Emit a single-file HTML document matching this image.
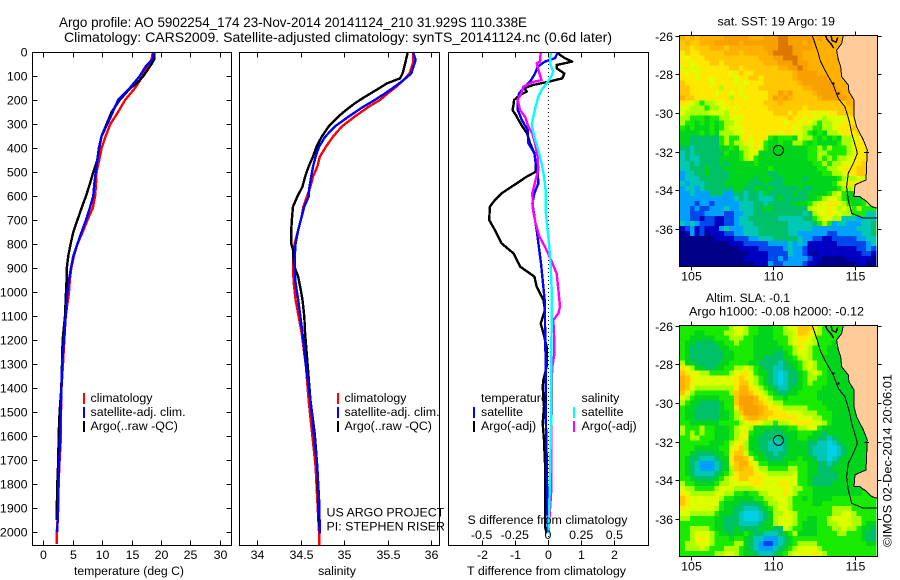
<!DOCTYPE html>
<html lang="en">
<head>
<meta charset="utf-8">
<title>Argo profile 5902254_174</title>
<style>
html,body{margin:0;padding:0;background:#fff;}
svg{display:block;}
text{font-family:"Liberation Sans",Arial,sans-serif;font-size:12.4px;fill:#000;}
.ttl{font-size:14px;}
</style>
</head>
<body>
<svg id="chart" xmlns="http://www.w3.org/2000/svg" width="900" height="580" viewBox="0 0 900 580">
  <text class="ttl" x="59" y="27" textLength="468" lengthAdjust="spacingAndGlyphs">Argo profile: AO 5902254_174 23-Nov-2014 20141124_210 31.929S 110.338E</text>
  <text class="ttl" x="64" y="42" textLength="548" lengthAdjust="spacingAndGlyphs">Climatology: CARS2009. Satellite-adjusted climatology: synTS_20141124.nc (0.6d later)</text>

  <g id="p1"></g>
  <g id="p2"></g>
  <g id="p3"></g>
  <g id="m1"></g>
  <g id="m2"></g>

  <g shape-rendering="crispEdges">
    <rect x="83" y="393" width="2" height="11" fill="#ff0000"/>
    <rect x="83" y="407" width="2" height="11" fill="#0000ff"/>
    <rect x="83" y="421" width="2" height="11" fill="#000000"/>
  </g>
  <text x="90.5" y="402">climatology</text>
  <text x="90.5" y="416">satellite-adj. clim.</text>
  <text x="90.5" y="430">Argo(..raw -QC)</text>

  <g shape-rendering="crispEdges">
    <rect x="337" y="393" width="2" height="11" fill="#ff0000"/>
    <rect x="337" y="407" width="2" height="11" fill="#0000ff"/>
    <rect x="337" y="421" width="2" height="11" fill="#000000"/>
  </g>
  <text x="344.5" y="402">climatology</text>
  <text x="344.5" y="416">satellite-adj. clim.</text>
  <text x="344.5" y="430">Argo(..raw -QC)</text>
  <text x="326.5" y="516.5">US ARGO PROJECT</text>
  <text x="326.5" y="530.5">PI: STEPHEN RISER</text>

  <g shape-rendering="crispEdges">
    <rect x="473" y="407" width="2" height="11" fill="#0000ff"/>
    <rect x="473" y="421" width="2" height="11" fill="#000000"/>
    <rect x="573" y="407" width="2" height="11" fill="#00ffff"/>
    <rect x="573" y="421" width="2" height="11" fill="#ff00ff"/>
  </g>
  <text x="481" y="402">temperature</text>
  <text x="481" y="416">satellite</text>
  <text x="481" y="430">Argo(-adj)</text>
  <text x="581.5" y="402">salinity</text>
  <text x="581.5" y="416">satellite</text>
  <text x="581.5" y="430">Argo(-adj)</text>

  <text x="74" y="575" textLength="110" lengthAdjust="spacingAndGlyphs">temperature (deg C)</text>
  <text x="337" y="575" text-anchor="middle">salinity</text>
  <text x="467.5" y="524" textLength="160" lengthAdjust="spacingAndGlyphs">S difference from climatology</text>
  <text x="467" y="575" textLength="159" lengthAdjust="spacingAndGlyphs">T difference from climatology</text>

  <text x="717.5" y="25.5" textLength="117.5" lengthAdjust="spacingAndGlyphs">sat. SST: 19 Argo: 19</text>
  <text x="706" y="302" textLength="84" lengthAdjust="spacingAndGlyphs">Altim. SLA: -0.1</text>
  <text x="689" y="315.5" textLength="175" lengthAdjust="spacingAndGlyphs">Argo h1000: -0.08 h2000: -0.12</text>
  <text transform="translate(891.5,547) rotate(-90)" textLength="173" lengthAdjust="spacingAndGlyphs">©IMOS 02-Dec-2014 20:06:01</text>
</svg>

<script>
/* ---- axis tick values ---- */
const depthTicks = [0,100,200,300,400,500,600,700,800,900,1000,1100,1200,1300,1400,1500,1600,1700,1800,1900,2000];
const tempTicks = [0,5,10,15,20,25,30];
const salTicks = [34,34.5,35,35.5,36];
const salTickLabels = ['34','34.5','35','35.5','36'];
const tDiffTicks = [-2,-1,0,1,2];
const tDiffLabels = ['-2','-1','0','1','2'];
const sDiffTicks = [-0.5,-0.25,0,0.25,0.5];
const sDiffLabels = ['-0.5','-0.25','0','0.25','0.5'];
const lonTicks = [105,110,115];
const latTicks = [-26,-28,-30,-32,-34,-36];

/* ---- temperature profiles ---- */
const tempClimDepth = [0,30,100,150,200,250,300,350,400,450,500,550,600,650,700,750,800,850,900,950,1000,1100,1200,1300,1400,1500,1600,1700,1800,1900,2000,2050];
const tempClimValues = [18.6,18.4,16.9,15.6,13.9,12.7,11.4,10.6,9.9,9.5,9.06,8.95,8.8,8.4,7.5,6.7,5.8,5.2,4.76,4.5,4.36,3.8,3.57,3.34,3.1,3.0,3.0,2.77,2.6,2.55,2.3,2.3];
const tempSatDepth = [0,30,60,100,150,200,250,300,350,400,450,500,550,600,650,700,750,800,850,900,950,1000,1100,1200,1300,1400,1500,1600,1700,1800,1900,2000];
const tempSatValues = [18.8,18.6,17.4,16.4,14.7,12.7,11.8,10.9,9.9,9.5,9.2,8.9,8.66,8.5,7.9,7.25,6.5,5.8,5.1,4.7,4.36,4.08,3.8,3.5,3.2,3.1,2.95,2.83,2.72,2.55,2.5,2.38];
const tempArgoDepth = [0,30,50,100,130,150,200,250,300,350,400,450,500,550,600,650,700,750,800,850,900,950,1000,1100,1200,1300,1400,1500,1600,1700,1800,1900,1950];
const tempArgoValues = [18.85,18.85,18.4,17,15.9,14.8,13,11.6,10.76,9.9,9.45,9.17,8.5,7.9,7.25,6.5,5.8,5.1,4.64,4.25,4,3.96,3.85,3.68,3.28,3.17,3.06,2.77,2.6,2.55,2.38,2.3,2.3];

/* ---- salinity profiles ---- */
const salClimDepth = [0,47,89,117,144,172,200,228,269,311,353,394,436,478,519,561,603,644,686,742,797,853,908,964,1033,1172,1311,1450,1589,1728,1867,2006,2055];
const salClimValues = [35.79,35.79,35.75,35.68,35.6,35.5,35.41,35.28,35.12,34.97,34.87,34.79,34.72,34.69,34.64,34.61,34.57,34.53,34.51,34.47,34.43,34.41,34.41,34.42,34.44,34.51,34.56,34.59,34.63,34.67,34.69,34.71,34.71];
const salSatDepth = [0,33,89,117,144,172,200,228,269,311,353,394,436,478,519,561,603,644,686,742,797,853,908,964,1033,1172,1311,1450,1589,1728,1867,2006];
const salSatValues = [35.79,35.82,35.77,35.68,35.58,35.47,35.35,35.22,35.05,34.89,34.78,34.71,34.67,34.64,34.62,34.6,34.59,34.54,34.51,34.47,34.44,34.43,34.43,34.44,34.47,34.52,34.56,34.61,34.65,34.69,34.71,34.72];
const salArgoDepth = [0,47,89,110,131,158,186,214,242,269,311,353,394,436,478,519,561,603,644,686,742,797,825,881,908,936,992,1033,1103,1172,1311,1450,1589,1728,1867,1978];
const salArgoValues = [35.73,35.7,35.67,35.64,35.49,35.37,35.24,35.12,35.02,34.93,34.82,34.74,34.68,34.64,34.59,34.55,34.52,34.46,34.41,34.4,34.39,34.39,34.41,34.42,34.44,34.47,34.5,34.52,34.54,34.55,34.58,34.61,34.66,34.69,34.7,34.71];

/* ---- differences from climatology ---- */
const dTArgoDepth = [3,12,26,40,54,68,89,110,124,137,151,165,179,200,221,242,262,283,311,339,380,422,464,499,519,547,589,617,644,700,742,797,839,894,936,978,1033,1075,1131,1172,1228,1310,1367,1394,1478,1547,1617,1714,1797,1867,1936,1978,2006];
const dTArgoValues = [0.31,0.36,0.51,0.73,0.26,0.26,0.49,0.43,0,-0.44,-0.71,-0.64,-0.84,-1.02,-1.04,-1.07,-0.97,-0.89,-0.77,-0.63,-0.54,-0.41,-0.37,-0.37,-0.64,-0.94,-1.4,-1.6,-1.75,-1.77,-1.6,-1.4,-1.04,-0.84,-0.41,-0.34,-0.14,-0.09,-0.22,-0.14,-0.04,-0.04,-0.14,-0.16,-0.12,-0.16,-0.12,-0.09,-0.09,-0.09,-0.09,-0.09,-0.04];
const dTSatDepth = [3,26,40,61,89,117,144,172,200,242,283,325,380,422,464,506,547,589,631,686,742,797,881,964,1047,1131,1310,1500,1700,2006];
const dTSatValues = [0.29,0.21,-0.09,-0.31,-0.39,-0.51,-0.69,-0.87,-0.91,-0.91,-0.79,-0.61,-0.59,-0.41,-0.37,-0.31,-0.29,-0.41,-0.47,-0.41,-0.34,-0.29,-0.21,-0.15,-0.09,-0.09,-0.07,-0.07,-0.04,-0.01];
const dSArgoDepth = [3,40,47,89,117,124,144,172,200,242,269,311,339,380,436,492,533,589,658,714,769,811,867,922,992,1061,1089,1117,1172,1256,1311,1367,1450,1711,1836,1964,2006];
const dSArgoValues = [-0.055,-0.06,-0.085,-0.065,-0.048,-0.11,-0.186,-0.2,-0.229,-0.21,-0.173,-0.148,-0.118,-0.098,-0.078,-0.073,-0.093,-0.118,-0.113,-0.093,-0.065,-0.023,0.023,0.065,0.078,0.09,0.078,0.04,0.045,0.048,0.033,0.028,0.028,0.023,0.023,0.008,0.003];
const dSSatDepth = [3,47,82,103,131,158,186,228,269,304,353,408,464,519,575,658,742,811,894,992,1061,1131,1269,1547,1825,2006];
const dSSatValues = [0.02,0.015,0.04,0.023,-0.01,-0.048,-0.073,-0.093,-0.11,-0.123,-0.103,-0.073,-0.048,-0.03,-0.018,-0.018,-0.003,0.01,0.02,0.028,0.028,0.028,0.023,0.023,0.013,0.003];

/* ---- map data: one character per cell, north to south, colour class index ---- */
const sstRows = [
"cbcbcccccd ddddcccddd eedddddcdc ccccdddddd",
"bcbbcccddd ddcddddddd eedddcdccc cccddddddd",
"bbabbbcccb cccccccddd eeeddddccc cccccddddd",
"abaabbbbbc ccbcccccde eeeddccccc ccccdddddd",
"a9aaabbbbb bbbbbbcccd deeedccccc ccccdddddd",
"aa9aaabbab bbbbbbbccc dddeddcccc cccccddddd",
"9a99aaaaaa bbabbbbbbb ccddedcccc cccccddddd",
"a9a9aaaaaa 9abaabbbbb bbbcddddcc ccccccdddd",
"aaa9aa9aaa a9aabbabbb bbbcdddddd ccccccdddd",
"baaaaa9aaa a9a9aaabbb bbbbcddddd dcccccdddd",
"bbaaaaaa8a aa9aaabbbb bbbbbccddd ddcccccddd",
"bbaaaaa9aa 9a9aaaaabb dcdbbbbcdd dddccccddd",
"cbbaaaaaaa 8aa9aaaabd cdcbbbbbcd ddddccccdd",
"aa9878899a aaaaaaabbb cbbbbbbbbb bbbbccccdd",
"9988878899 a9aaaaaabb bbbbbabbbb bbbbbccccc",
"9888889998 aaaaaaaaab bbabaaa9a9 aabbbbcccc",
"8877767788 999aaaaaaa aabaa9a998 9999aabbcc",
"8776767678 89aaaaaaaa a9aa9a9878 899aaabbbc",
"7676667678 999aaaaaaa aaa9a88778 89aaabbbcc",
"6666767688 899aaaaaaa 9aa9987676 889aaabbbc",
"6655555578 779a9aaa76 7776988767 676889aaab",
"6655555578 788a9a9766 7668876766 667889aaab",
"5545555566 76889a9766 6666667787 877789aabb",
"4545555557 6678996666 6666667788 777789aabb",
"4544555566 6678976666 6666667787 878899aabb",
"4454555565 6666676666 6666666778 78899aabbb",
"4455565556 6666666676 6666666677 889aaabbbb",
"3445565555 6666666655 6666666667 7889aabbcb",
"3444555555 6666656665 5666656666 66788899a8",
"4344455556 6666555655 5666666666 6789aa9888",
"3443455555 5665566565 5555655666 6678897788",
"3343335553 3554554655 5556556666 7897667888",
"3333333333 3454554445 6555556678 9987666778",
"3332332333 3344455455 5556667899 aa98766788",
"3323223334 3344455665 5555558999 a989878777",
"3322233332 2334455555 5555545899 a998877744",
"3322122112 2344555555 4444455789 9884443444",
"4343222112 2344455555 5544444578 7344333445",
"1231211134 3334445555 5544444333 3333334445",
"0131201112 2334445555 5544333333 2233333445",
"0000000111 1222334445 5555433221 1222223344",
"0000000000 1112222233 3343431111 1122222234",
"0000000000 0011112222 2343321111 1111112232",
"0000000000 0000111122 2243321011 1111111221",
"0000000000 0001111122 3233332110 0000111110",
"0000000000 0000011132 2333321100 0000001100"
];
const slaRows = [
"7777777777 8998776667 7899bbb987 7777777777",
"7776677778 8998776667 7889bba987 7776666777",
"7766666777 8887766667 7789aa9877 7766666677",
"7665555667 7877766666 7789a99877 7666666667",
"7655555566 7777766666 6778a98777 6666666667",
"7655555556 6777766665 5678998777 6666666667",
"7655555556 6777766555 5667898776 6666666667",
"8665555566 7777665555 4566789877 6666666667",
"a986655667 7889876554 4556789877 6666666667",
"ba99887777 89aa976654 f455678987 6666666666",
"cba9999999 9aba987654 f455678877 6666666666",
"cba9999999 9abb987654 f455678777 6666666666",
"cb98888888 8acca98765 4456677776 6666666666",
"b987777777 8bccba9876 5566777766 6666666666",
"9876666677 7bdddca987 7677777766 6666666666",
"8766555567 7bdddcba98 8777777776 6666666666",
"7665555567 7acdddcbaa 9888887777 6666666666",
"7665555566 78bdddcbba aa99988877 7666666666",
"7665555566 789bccbbaa aaaa999887 7666666666",
"7766666677 7789aa9887 889aaaa998 7666666666",
"8777877666 7899866665 6677889976 6666666666",
"8787877666 789a766555 5666777665 6666666666",
"7788777666 78a9665554 5566776655 4566666666",
"7777776667 89a8665544 4566665544 f456666666",
"7776666677 9ab8665544 4566665444 ff45666666",
"7765555667 abb9766554 5566665444 ff45666666",
"7655444566 accb976655 5666766544 f456666666",
"7654333456 abcca97766 6677776655 4566666666",
"7654333456 8bcbb98877 7788776655 5666666666",
"7654444567 8abbba9988 8889776655 5566666666",
"7765555678 9abbaaa999 9999776555 5566666666",
"8776666788 9999aaa999 aa99776555 5666666666",
"9887777899 9888899999 9a98877666 6666666666",
"a988888998 8776778899 9a98777666 6666666777",
"ba99999987 7666677889 9987767666 6777777777",
"ba99999976 6655556788 9987777667 7777777777",
"a999999876 6554445678 9987777777 7888877777",
"9988888766 654fff4568 8998777777 7889987777",
"8877777665 554fff4568 9998776677 8999988777",
"7777777665 5544445668 9998766677 8899988766",
"7788887665 5655556665 5987766677 7889887665",
"7789998766 5667655444 5678666677 7788777655",
"7789a98777 6776544333 4567777777 7777777655",
"7889998777 7886543223 4567888877 7777777766",
"7888987778 8876543334 5678999987 7777777777",
"7777777889 9876654445 6789999a98 7777777777"
];
const coastLonLat = [[114.29,-26],[114.19,-26.41],[113.88,-26.76],[113.99,-27.27],[114.13,-27.62],[114.19,-28.13],[114.59,-28.56],[114.63,-28.9],[114.94,-29.33],[114.94,-30.19],[115.1,-30.71],[115.51,-31.4],[115.75,-31.91],[115.71,-32.6],[115.67,-33.46],[115.2,-33.63],[115,-33.71],[114.94,-34.32],[115.3,-34.32],[115.71,-34.57],[116,-34.83],[116.36,-34.92]];
const shelfLonLat = [[112.4,-26],[112.77,-26.93],[112.87,-27.27],[113.17,-27.79],[113.68,-28.56],[113.99,-29.25],[114.39,-29.68],[114.66,-30.45],[114.8,-31.05],[115.1,-31.91],[115.14,-32.08],[114.9,-32.6],[114.59,-33.11],[114.49,-33.8],[114.59,-34.49],[114.8,-35.18],[115.51,-35.43],[116.36,-35.43]];
const sharkBayLonLat = [[113.2,-26],[113.3,-26.2],[113.6,-26.5],[113.7,-26.65]];
const sharkBayInnerLonLat = [[113.55,-26],[113.6,-26.25],[113.85,-26.35],[113.95,-26.1]];
const perthLineLonLat = [[115.55,-32.05],[115.85,-32.05]];
const islandLonLat = [[113.7,-28.49],[113.99,-28.99]];
const argoLon = 110.338;
const argoLat = -31.929;

/* ---- rendering ---- */
const palette = ['#000088','#0000c4','#0048ec','#00a0ff','#00c8b4','#00c068','#00d41c','#18ea00','#a8ff00','#dcff00','#ffe800','#ffc800','#ffb000','#f8a000','#dc7800','#00d0e8'];
const SVGNS = 'http://www.w3.org/2000/svg';
const depthY = d => 52 + d * 0.24;
const tempX = t => 43.3 + t * 5.887;
const salX = s => 257.3 + (s - 34) * 87;
const dTX = v => 548 + v * 33.2;
const dSX = v => 548 + v * 132.8;
const lonX = lon => 690.7 + (lon - 105) * 16.43;
const latY = (lat, top) => top + (-26 - lat) * 19.37;

function make(parent, tag, props) {
  const el = document.createElementNS(SVGNS, tag);
  for (const k in props) el.setAttribute(k, props[k]);
  parent.appendChild(el);
  return el;
}
function label(parent, str, x, y, anchor, name) {
  const el = make(parent, 'text', {x: x, y: y, 'text-anchor': anchor});
  el.textContent = str;
  
  
  return el;
}
function tick(parent, x1, y1, x2, y2) {
  const el = make(parent, 'line', {x1: x1, y1: y1, x2: x2, y2: y2, stroke: '#000', 'stroke-width': 1, 'shape-rendering': 'crispEdges'});
  
  
}
function frame(parent, x0, y0, x1, y1) {
  const el = make(parent, 'rect', {x: x0, y: y0, width: x1 - x0, height: y1 - y0, fill: 'none', stroke: '#000', 'stroke-width': 1, 'shape-rendering': 'crispEdges'});
  
  
}
function profile(parent, depths, values, xFn, colour, name) {
  const pts = depths.map((d, i) => xFn(values[i]).toFixed(1) + ',' + depthY(d).toFixed(1)).join(' ');
  const el = make(parent, 'polyline', {points: pts, fill: 'none', stroke: colour, 'stroke-width': 2.4, 'stroke-linejoin': 'round', 'shape-rendering': 'crispEdges'});
  
  
}
function panelTicks(parent, ticks, labels, xFn) {
  ticks.forEach((t, i) => {
    const x = Math.round(xFn(t)) + 0.5;
    tick(parent, x, 52.5, x, 57.5);
    tick(parent, x, 545.5, x, 540.5);
    label(parent, labels[i], x, 559, 'middle', 'x-tick-label');
  });
}
function geoLine(parent, coords, top, name, width) {
  const pts = coords.map(p => lonX(p[0]).toFixed(1) + ',' + latY(p[1], top).toFixed(1)).join(' ');
  const el = make(parent, 'polyline', {points: pts, fill: 'none', stroke: '#000', 'stroke-width': width, 'shape-rendering': 'crispEdges'});
  
  
}

/* temperature panel */
const p1 = document.getElementById('p1');
profile(p1, tempClimDepth, tempClimValues, tempX, '#ff0000', 'temperature-climatology-line');
profile(p1, tempArgoDepth, tempArgoValues, tempX, '#000000', 'temperature-argo-line');
profile(p1, tempSatDepth, tempSatValues, tempX, '#0000ff', 'temperature-satellite-line');
frame(p1, 32.5, 52.5, 231.5, 545.5);
panelTicks(p1, tempTicks, tempTicks.map(String), tempX);
depthTicks.forEach(d => {
  const y = Math.floor(depthY(d)) + 0.5;
  tick(p1, 32.5, y, 37.5, y);
  tick(p1, 231.5, y, 226.5, y);
  label(p1, String(d), 27.5, y + 4, 'end', 'depth-tick-label');
});

/* salinity panel */
const p2 = document.getElementById('p2');
profile(p2, salClimDepth, salClimValues, salX, '#ff0000', 'salinity-climatology-line');
profile(p2, salArgoDepth, salArgoValues, salX, '#000000', 'salinity-argo-line');
profile(p2, salSatDepth, salSatValues, salX, '#0000ff', 'salinity-satellite-line');
frame(p2, 239.5, 52.5, 439.5, 545.5);
panelTicks(p2, salTicks, salTickLabels, salX);

/* difference panel */
const p3 = document.getElementById('p3');
const zeroLine = make(p3, 'line', {x1: 548.5, y1: 52, x2: 548.5, y2: 545, stroke: '#000', 'stroke-width': 1, 'stroke-dasharray': '1 3', 'shape-rendering': 'crispEdges'});


profile(p3, dTArgoDepth, dTArgoValues, dTX, '#000000', 'temperature-difference-argo-line');
profile(p3, dTSatDepth, dTSatValues, dTX, '#0000ff', 'temperature-difference-satellite-line');
profile(p3, dSArgoDepth, dSArgoValues, dSX, '#ff00ff', 'salinity-difference-argo-line');
profile(p3, dSSatDepth, dSSatValues, dSX, '#00ffff', 'salinity-difference-satellite-line');
frame(p3, 448.5, 52.5, 648.5, 545.5);
panelTicks(p3, tDiffTicks, tDiffLabels, dTX);
sDiffTicks.forEach((t, i) => {
  label(p3, sDiffLabels[i], dSX(t), 539, 'middle', 's-difference-tick-label');
});

/* maps */
function drawMap(groupId, rows, top, name) {
  const g = document.getElementById(groupId);
  const bottom = top + 231;
  const cellW = 4.9, cellH = 5.01;
  const left = 680;
  rows.forEach((row, r) => {
    const cells = row.replace(/ /g, '');
    for (let c = 0; c < cells.length; c++) {
      const x = left + c * cellW;
      const y = top + r * cellH;
      const cell = make(g, 'rect', {x: x, y: y, width: cellW + 0.4, height: cellH + 0.4, fill: palette[parseInt(cells[c], 16)], 'shape-rendering': 'crispEdges'});
      
      
    }
  });
  const rightEdge = 877.5;
  const landPts = coastLonLat.map(p => lonX(p[0]).toFixed(1) + ',' + latY(p[1], top).toFixed(1));
  const land = make(g, 'polygon', {points: landPts.join(' ') + ' ' + rightEdge + ',' + top, fill: '#ffcc99', stroke: 'none'});
  
  
  geoLine(g, coastLonLat, top, 'coastline', 1);
  geoLine(g, shelfLonLat, top, 'shelf-contour', 1);
  geoLine(g, sharkBayLonLat, top, 'shark-bay-coast', 1.5);
  geoLine(g, sharkBayInnerLonLat, top, 'shark-bay-inner-coast', 1.5);
  geoLine(g, perthLineLonLat, top, 'perth-marker-line', 1);
  islandLonLat.forEach(p => {
    const dot = make(g, 'rect', {x: lonX(p[0]) - 1, y: latY(p[1], top) - 1, width: 2, height: 2, fill: '#000', 'shape-rendering': 'crispEdges'});
    
    
  });
  const marker = make(g, 'circle', {cx: lonX(argoLon), cy: latY(argoLat, top), r: 5, fill: 'none', stroke: '#000', 'stroke-width': 1});
  
  
  frame(g, 679.5, top, rightEdge, bottom);
  lonTicks.forEach(l => {
    const x = Math.round(lonX(l)) + 0.5;
    tick(g, x, top, x, top - 4);
    tick(g, x, bottom, x, bottom + 4);
    label(g, String(l), x, bottom + 14, 'middle', 'longitude-tick-label');
  });
  latTicks.forEach(l => {
    const y = Math.round(latY(l, top)) + 0.5;
    tick(g, 679.5, y, 675.5, y);
    tick(g, rightEdge, y, rightEdge + 4, y);
    label(g, String(l), 673, y + 4.5, 'end', 'latitude-tick-label');
  });
}
drawMap('m1', sstRows, 35.5, 'sst');
drawMap('m2', slaRows, 325.5, 'sla');
</script>
</body>
</html>
